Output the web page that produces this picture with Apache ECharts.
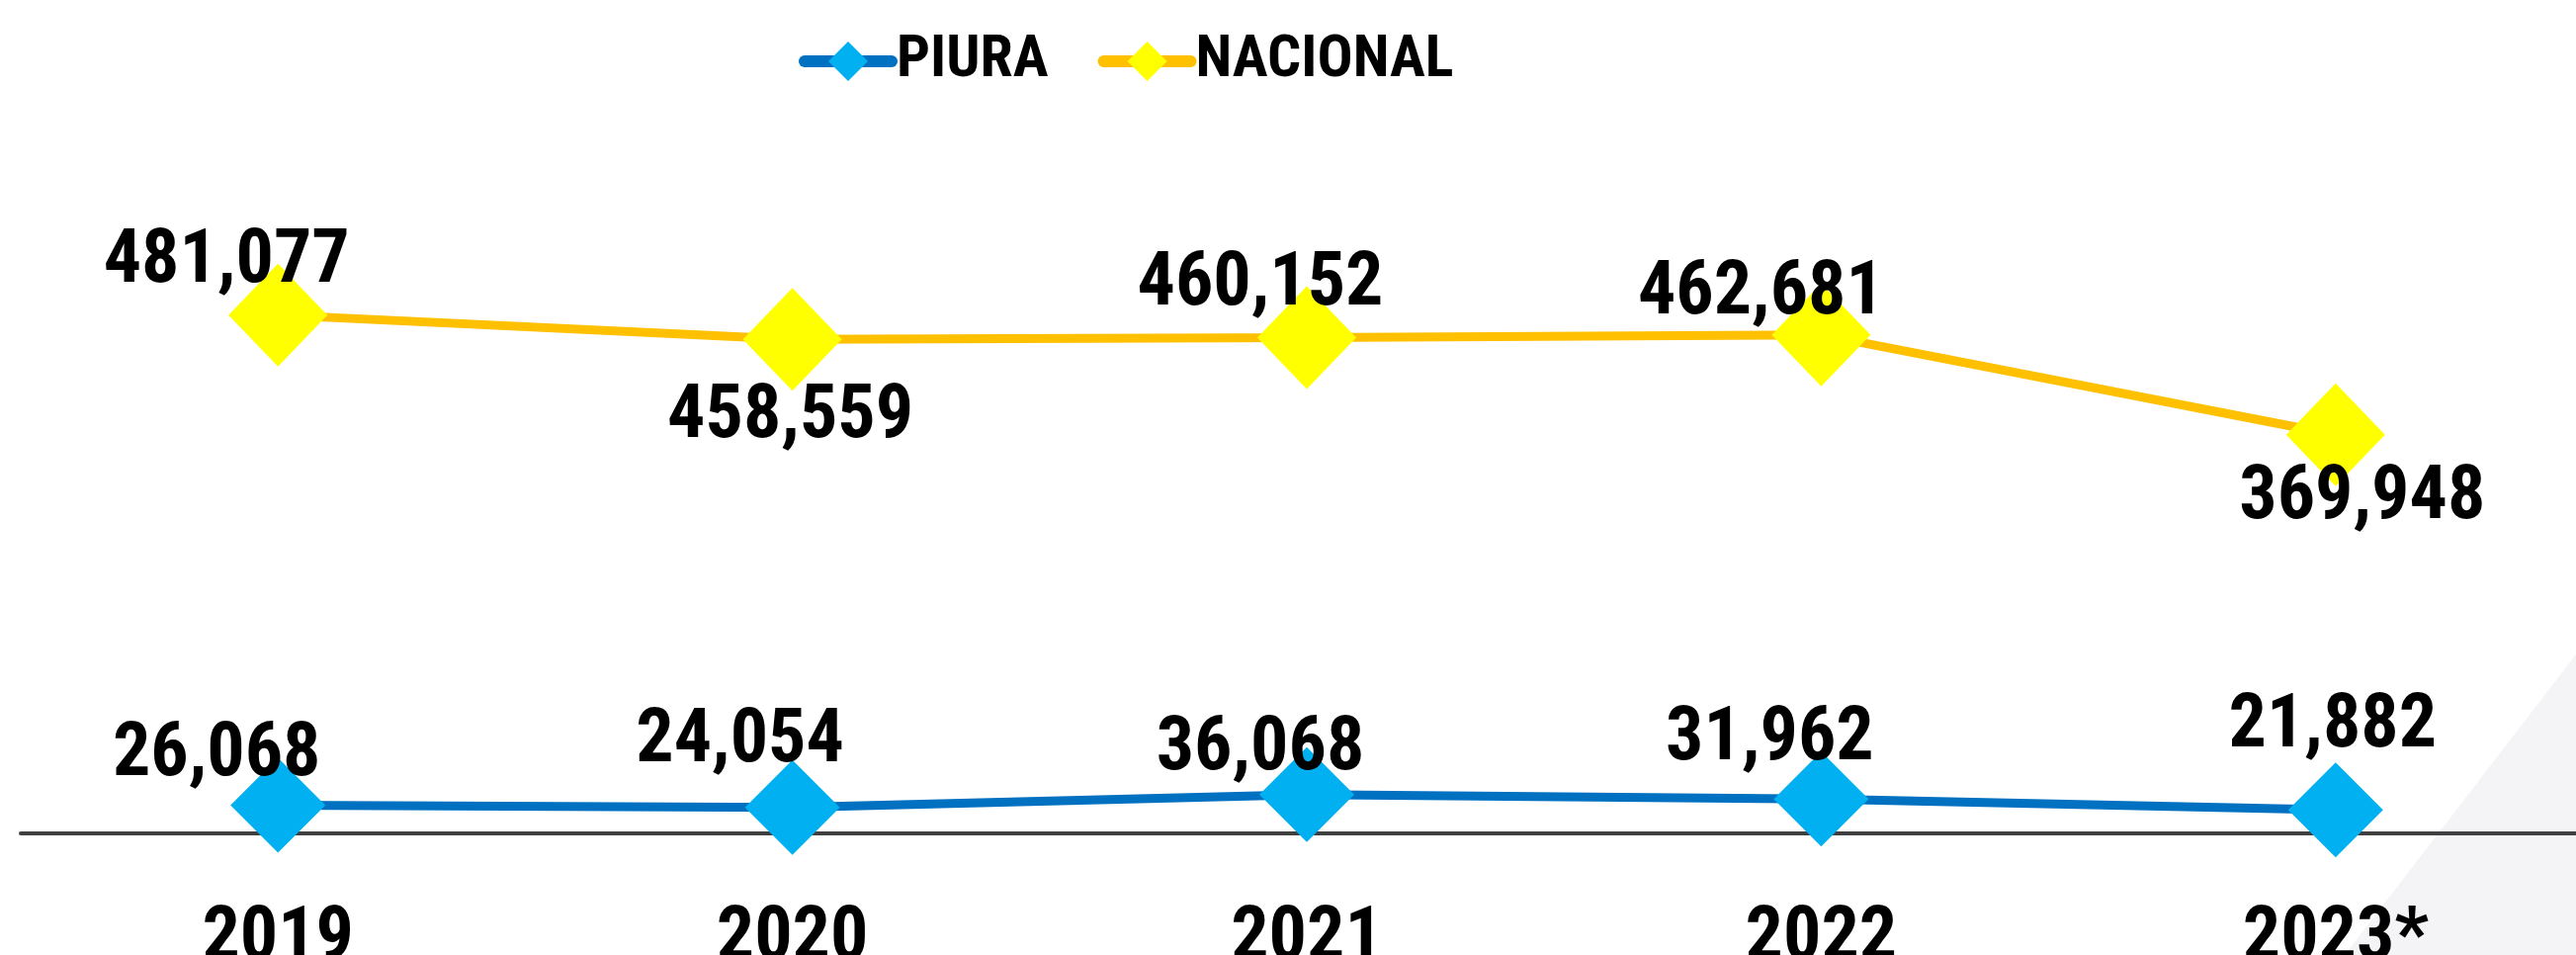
<!DOCTYPE html>
<html>
<head>
<meta charset="utf-8">
<script src="https://cdn.jsdelivr.net/npm/echarts@6/dist/echarts.min.js"></script>
<style>
  html, body { margin: 0; padding: 0; background: #fff; }
  #main { width: 2606px; height: 966px; }
</style>
</head>
<body>
<div id="main"></div>
<script>
var years = ['2019', '2020', '2021', '2022', '2023*'];
var piura = [26068, 24054, 36068, 31962, 21882];
var nacional = [481077, 458559, 460152, 462681, 369948];

// desplazamiento de cada etiqueta respecto al punto (px)
var piuraLabelOffset = [[-62, -50], [-53, -66], [-47, -45], [-52, -59], [-3, -83]];
var nacionalLabelOffset = [[-52, -53], [-2, 80], [-47, -52], [-61, -41], [27, 65]];

var font = "'Liberation Sans Narrow', 'Roboto Condensed', 'Liberation Sans', sans-serif";

function fmt(v) {
  return String(v).replace(/\B(?=(\d{3})+(?!\d))/g, ',');
}

function withLabels(values, offsets) {
  return values.map(function (v, i) {
    return { value: v, label: { offset: offsets[i] } };
  });
}

var chart = echarts.init(document.getElementById('main'));

var option = {
  backgroundColor: '#ffffff',
  animation: false,
  graphic: [
    {
      type: 'polygon',
      z: -10,
      shape: { points: [[2372, 966], [2606, 662], [2606, 966]] },
      style: { fill: '#f4f4f6' }
    }
  ],
  legend: {
    top: 27,
    left: 803,
    itemWidth: 88,
    itemHeight: 50,
    itemGap: 50,
    lineStyle: { width: 12, cap: 'round' },
    textStyle: { fontFamily: font, fontSize: 60, fontWeight: 'bold', color: '#000' },
    data: ['PIURA', 'NACIONAL']
  },
  grid: {
    left: 21,
    width: 2602,
    top: 298,
    bottom: 123,
    containLabel: false,
    outerBoundsMode: 'none'
  },
  xAxis: {
    type: 'category',
    boundaryGap: true,
    data: years,
    axisLine: { lineStyle: { color: '#404040', width: 4 } },
    axisTick: { show: false },
    axisLabel: {
      margin: 70,
      fontFamily: font,
      fontSize: 76,
      fontWeight: 'bold',
      color: '#000'
    }
  },
  yAxis: {
    type: 'value',
    min: 0,
    max: 500000,
    show: false,
    splitLine: { show: false }
  },
  series: [
    {
      name: 'PIURA',
      type: 'line',
      data: withLabels(piura, piuraLabelOffset),
      symbol: 'diamond',
      symbolSize: [96, 96],
      lineStyle: { color: '#0070c0', width: 9 },
      itemStyle: { color: '#00b0f0' },
      label: {
        show: true,
        position: 'inside',
        formatter: function (p) { return fmt(p.value); },
        fontFamily: font,
        fontSize: 76,
        fontWeight: 'bold',
        color: '#000'
      },
      z: 3
    },
    {
      name: 'NACIONAL',
      type: 'line',
      data: withLabels(nacional, nacionalLabelOffset),
      symbol: 'diamond',
      symbolSize: [100, 104],
      lineStyle: { color: '#ffc000', width: 9 },
      itemStyle: { color: '#ffff00' },
      label: {
        show: true,
        position: 'inside',
        formatter: function (p) { return fmt(p.value); },
        fontFamily: font,
        fontSize: 76,
        fontWeight: 'bold',
        color: '#000'
      },
      z: 3
    }
  ]
};

chart.setOption(option);
</script>
</body>
</html>
